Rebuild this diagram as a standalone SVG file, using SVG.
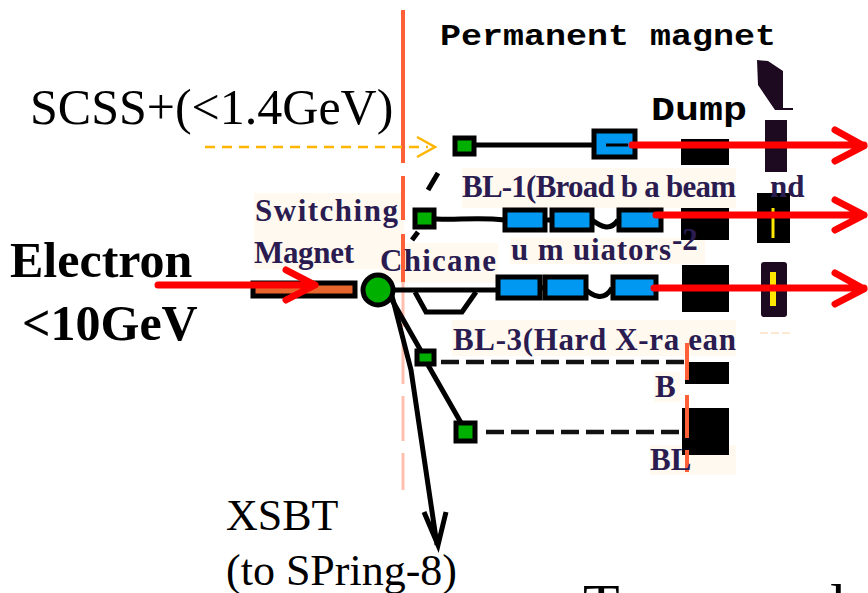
<svg xmlns="http://www.w3.org/2000/svg" width="868" height="593" viewBox="0 0 868 593">
<style>
.t{font-family:"Liberation Serif","Times New Roman",serif;fill:#000}
.b{font-weight:bold}
.s{font-family:"Liberation Serif",serif;font-weight:bold;fill:#2a1c50;font-size:31px}
.m{font-family:"Liberation Mono","DejaVu Sans Mono",monospace;font-weight:bold;fill:#000}
.bg{fill:#fff9f0}
.q{fill:#00b000;stroke:#000;stroke-width:5}
.u{fill:#0098f0;stroke:#000;stroke-width:5}
.l{fill:none;stroke:#000;stroke-width:5}
.d{fill:none;stroke:#111;stroke-width:4.5;stroke-dasharray:18 7}
.r{fill:none;stroke:#f00;stroke-width:7;stroke-linecap:round;stroke-linejoin:round}
.o{stroke:#ff6038;stroke-width:4;fill:none}
.k{fill:#000}
.y{stroke:#ffe800;stroke-width:3;fill:none}
</style>
<rect width="868" height="593" fill="#fff"/>

<g id="label-backgrounds">
<rect class="bg" x="254" y="193" width="150" height="76"/>
<rect class="bg" x="380" y="243" width="118" height="40"/>
<rect class="bg" x="462" y="168" width="274" height="40"/>
<rect class="bg" x="510" y="238" width="195" height="26"/>
<rect class="bg" x="452" y="320" width="284" height="36"/>
<rect class="bg" x="654" y="372" width="26" height="30"/>
<rect class="bg" x="650" y="445" width="86" height="30"/>
</g>

<g id="chicane-line">
<path class="o" d="M403 10V163M403 176V220M403 234V282" stroke-width="5"/>
<path d="M403 282V490" stroke="#ffc0b0" stroke-width="3" stroke-dasharray="45 12" fill="none"/>
</g>

<g id="connectors">
<path class="l" d="M470 145H595"/>
<path class="l" d="M438 173L428 190M418 232L412 240"/>
<path class="l" d="M428 218C450 222 470 216 505 220M545 220H553M592 220C600 226 610 232 618 220"/>
<path class="l" d="M395 290H500M537 288H545M584 288C592 296 604 302 612 288"/>
<path class="l" d="M415 292L426 312H462L476 292" stroke-width="6"/>
<path class="l" d="M392 300L425 358M428 365L464 428"/>
<path class="d" d="M441 362H684"/>
<path class="d" d="M486 432H735"/>
<path d="M391 292L411 370L437 545M424 512L438 545L446 512" class="l" stroke-width="5"/>
<path d="M205 147H428" stroke="#ffb400" stroke-width="2.5" stroke-dasharray="10 7" fill="none"/>
<path d="M417 137L435 147L417 157" stroke="#ffb400" stroke-width="2.5" fill="none"/>
</g>

<g id="switching-magnet"><rect x="253" y="283" width="102" height="13" fill="#e8662e" stroke="#000" stroke-width="5"/></g>
<g id="bend-1"><circle cx="378" cy="290" r="15" fill="#00b000" stroke="#000" stroke-width="5"/></g>

<g id="node-scss"><rect class="q" x="455" y="138" width="19" height="16"/></g>
<g id="node-bl1"><rect class="q" x="415" y="210" width="19" height="17"/></g>
<g id="node-bl3"><rect class="q" x="417" y="351" width="17" height="13"/></g>
<g id="node-bl4"><rect class="q" x="456" y="423" width="19" height="18"/></g>

<g id="undulator-scss"><rect class="u" x="594" y="131" width="41" height="26"/><path d="M606 145H628" stroke="#000" stroke-width="3"/></g>
<g id="undulators-bl1">
<rect class="u" x="505" y="210" width="40" height="20"/>
<rect class="u" x="552" y="210" width="40" height="20"/>
<rect class="u" x="619" y="210" width="42" height="20"/>
</g>
<g id="undulators-bl2">
<rect class="u" x="498" y="277" width="42" height="21"/>
<rect class="u" x="545" y="277" width="41" height="21"/>
<rect class="u" x="613" y="277" width="43" height="21"/>
</g>

<g id="dumps">
<rect class="k" x="681" y="139" width="48" height="26"/>
<rect class="k" x="681" y="208" width="48" height="32"/>
<rect class="k" x="682" y="265" width="47" height="47"/>
<rect class="k" x="685" y="362" width="44" height="22"/>
<rect class="k" x="682" y="408" width="47" height="47"/>
</g>

<g id="permanent-magnets">
<path d="M757 60L768 61L783 71L783 108H793V110H775L758 85Z" fill="#1e0a20"/>
<rect x="765" y="120" width="22" height="52" fill="#1e0a20"/>
<rect x="757" y="193" width="33" height="50" fill="#000"/>
<path class="y" d="M773 208V238"/>
<rect x="761" y="262" width="26" height="55" rx="3" fill="#1e0a20"/>
<path d="M773 272V306" stroke="#ffe800" stroke-width="6"/>
<path d="M760 333H790" stroke="#ffe8d0" stroke-width="2" stroke-dasharray="8 3"/>
</g>

<g id="short-orange">
<path class="o" d="M687 343V380M687 395V438M687 450V472"/>
</g>

<g id="beams">
<path class="r" stroke-width="7" d="M632 145H864M835 130L864 146L835 161" stroke-linecap="round"/>
<path class="r" d="M656 215H864M835 200L864 215L835 230"/>
<path class="r" d="M654 288H864M835 273L864 289L835 304"/>
<path class="r" d="M158 285H315M286 270L315 285L286 300"/>
</g>

<g id="labels">
<text class="t" x="30" y="124" font-size="50">SCSS+(&lt;1.4GeV)</text>
<text class="t b" x="10" y="277" font-size="50">Electron</text>
<text class="t b" x="22" y="340" font-size="50">&lt;10GeV</text>
<text class="t" x="226" y="530" font-size="44">XSBT</text>
<text class="t" x="226" y="585" font-size="44">(to SPring-8)</text>
<text class="m" x="440" y="45" font-size="30" textLength="336" lengthAdjust="spacingAndGlyphs">Permanent magnet</text>
<text class="m" x="651" y="120" font-size="33" textLength="96" lengthAdjust="spacingAndGlyphs">Dump</text>
<text class="s" x="255" y="221" textLength="143" lengthAdjust="spacing">Switching</text>
<text class="s" x="254" y="263" textLength="100" lengthAdjust="spacing">Magnet</text>
<text class="s" x="380" y="271" textLength="116" lengthAdjust="spacing">Chicane</text>
<text class="s" x="462" y="197" textLength="274" lengthAdjust="spacing">BL-1(Broad b a beam</text>
<text class="s" x="770" y="197" font-size="26">nd</text>
<text class="s" x="511" y="260" textLength="160" lengthAdjust="spacing">u m uiators</text>
<text class="s" x="672" y="250" font-size="26">-2</text>
<text class="s" x="453" y="350" textLength="283" lengthAdjust="spacing">BL-3(Hard X-ra ean</text>
<text class="s" x="655" y="397">B</text>
<text class="s" x="650" y="470">BL</text>
<text class="t" x="583" y="625" font-size="60">T</text>
<text class="t" x="830" y="625" font-size="60">l</text>
</g>
</svg>
